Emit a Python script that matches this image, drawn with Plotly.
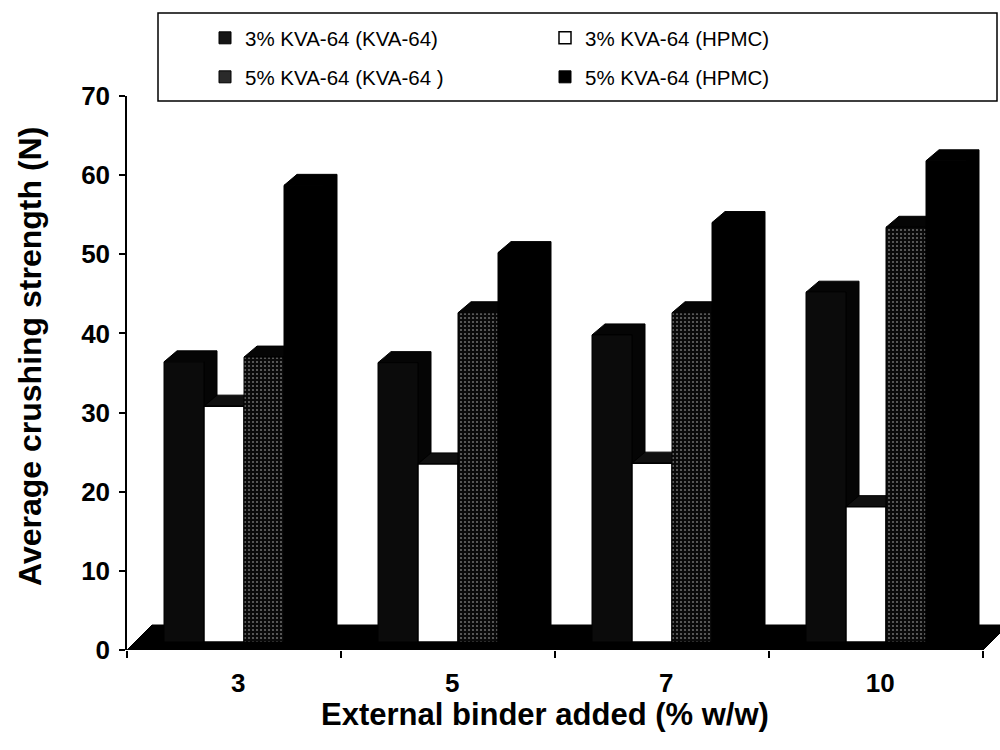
import plotly.graph_objects as go

# ---- data -------------------------------------------------------------
categories = ["3", "5", "7", "10"]          # external binder added (% w/w)
series_names = [
    "3% KVA-64 (KVA-64)",
    "3% KVA-64 (HPMC)",
    "5% KVA-64 (KVA-64 )",
    "5% KVA-64 (HPMC)",
]
kva3_kva64 = [35.4, 35.3, 38.8, 44.2]
kva3_hpmc = [29.8, 22.5, 22.6, 17.1]
kva5_kva64 = [36.0, 41.6, 41.6, 52.4]
kva5_hpmc = [57.7, 49.2, 53.0, 60.8]
y_ticks = [0, 10, 20, 30, 40, 50, 60, 70]

series_values = [kva3_kva64, kva3_hpmc, kva5_kva64, kva5_hpmc]

# ---- layout geometry (pixels) ------------------------------------------
W, H = 1000, 750
M_L, M_R, M_T, M_B = 127, 0, 96, 100
PLOT_W = W - M_L - M_R
PLOT_H = H - M_T - M_B
Y_MAX = 70
CAT_PX = 214                      # width of one category slot
UX = 1.0 / CAT_PX                 # x data units per pixel
UY = Y_MAX / PLOT_H               # y data units per pixel
X_RANGE = [-0.5, -0.5 + PLOT_W / CAT_PX]

BAR_PX = 40                       # front face width of one column
SHIFT_X, SHIFT_Y = 10, 8          # columns stand a little back on the floor
DEPTH_X, DEPTH_Y = 13, 11         # oblique depth of each column
FLOOR_X, FLOOR_Y = 25, 25         # oblique depth of the floor

FONT = "Liberation Sans, Arial, sans-serif"

# front face styles per series
front_styles = [
    dict(fillcolor="#0b0b0b", line=dict(color="black", width=1)),
    dict(fillcolor="white", line=dict(color="black", width=1.5)),
    dict(fillcolor="#111111", line=dict(color="black", width=1),
         fillpattern=dict(shape=".", bgcolor="#0a0a0a", fgcolor="#c8c8c8",
                          size=4, solidity=0.22)),
    dict(fillcolor="black", line=dict(color="black", width=1)),
]
side_color = ["#050505", "#101010", "#050505", "black"]
legend_marker = [
    dict(color="#151515", line=dict(color="black", width=1)),
    dict(color="white", line=dict(color="black", width=1.5)),
    dict(color="#2a2a2a", line=dict(color="black", width=1)),
    dict(color="black", line=dict(color="black", width=1)),
]

fig = go.Figure()

# floor of the 3-D plot area
fx, fy = FLOOR_X * UX, FLOOR_Y * UY
fig.add_trace(go.Scatter(
    x=[-0.5, 3.5, 3.5 + fx, -0.5 + fx, -0.5],
    y=[0, 0, fy, fy, 0],
    fill="toself", fillcolor="black", mode="lines",
    line=dict(color="black", width=1),
    hoverinfo="skip", showlegend=False,
))

dx, dy = DEPTH_X * UX, DEPTH_Y * UY
base = SHIFT_Y * UY
for k, (name, values) in enumerate(zip(series_names, series_values)):
    fxs, fys, sxs, sys_ = [], [], [], []
    for i, v in enumerate(values):
        xl = i + (SHIFT_X + (k - 2) * BAR_PX) * UX
        xr = xl + BAR_PX * UX
        top = base + v
        # top + right side faces
        sxs += [xl, xl + dx, xr + dx, xr + dx, xr, xr, xl, None]
        sys_ += [top, top + dy, top + dy, base + dy, base, top, top, None]
        # front face
        fxs += [xl, xr, xr, xl, xl, None]
        fys += [base, base, top, top, base, None]
    fig.add_trace(go.Scatter(
        x=sxs, y=sys_, fill="toself", fillcolor=side_color[k], mode="lines",
        line=dict(color="black", width=1), hoverinfo="skip", showlegend=False,
    ))
    fig.add_trace(go.Scatter(
        x=fxs, y=fys, fill="toself", mode="lines", name=name,
        hoverinfo="skip", showlegend=False, **front_styles[k],
    ))

# legend entries (two rows of two)
for k, name in enumerate(series_names):
    fig.add_trace(go.Scatter(
        x=[None], y=[None], mode="markers", name=name,
        marker=dict(symbol="square", size=12, **legend_marker[k]),
        legend="legend" if k < 2 else "legend2",
    ))

legend_common = dict(
    orientation="h", xanchor="left", yanchor="middle",
    entrywidth=295, entrywidthmode="pixels",
    bgcolor="rgba(0,0,0,0)", borderwidth=0,
    font=dict(family=FONT, size=20.5, color="black"),
    traceorder="normal",
)


def px_x(p):
    return (p - M_L) / PLOT_W


def px_y(p):
    return (H - M_B - p) / PLOT_H


tick_font = dict(family=FONT, size=26, color="black", weight="bold")

fig.update_layout(
    width=W, height=H,
    margin=dict(l=M_L, r=M_R, t=M_T, b=M_B),
    paper_bgcolor="white", plot_bgcolor="white",
    xaxis=dict(
        range=X_RANGE, showgrid=False, zeroline=False, showline=False,
        tickmode="array", tickvals=[i + 0.02 for i in range(len(categories))],
        ticktext=categories, ticks="", tickfont=tick_font,
        ticklabelstandoff=15,
        minor=dict(tickmode="array",
                   tickvals=[i - 0.5 for i in range(len(categories) + 1)],
                   ticks="outside", ticklen=7, tickcolor="black", tickwidth=1.5),
        fixedrange=True,
    ),
    yaxis=dict(
        range=[0, Y_MAX], showgrid=False, zeroline=False,
        showline=True, linecolor="black", linewidth=1.5,
        tickmode="array", tickvals=y_ticks,
        ticks="outside", ticklen=6, tickcolor="black", tickwidth=1.5,
        tickfont=tick_font, ticklabelstandoff=4,
        fixedrange=True,
    ),
    legend=dict(x=px_x(205), y=px_y(38), **legend_common),
    legend2=dict(x=px_x(205), y=px_y(77), **legend_common),
    shapes=[dict(
        type="rect", xref="paper", yref="paper",
        x0=px_x(158), x1=px_x(997), y0=px_y(101), y1=px_y(13),
        line=dict(color="black", width=1.5), fillcolor="rgba(0,0,0,0)",
        layer="below",
    )],
    annotations=[
        dict(text="External binder added (% w/w)", xref="paper", yref="paper",
             x=px_x(545), y=px_y(715), xanchor="center", yanchor="middle",
             showarrow=False,
             font=dict(family=FONT, size=31, color="black", weight="bold")),
        dict(text="Average crushing strength (N)", xref="paper", yref="paper",
             x=px_x(30), y=px_y(357), xanchor="center", yanchor="middle",
             textangle=-90, showarrow=False,
             font=dict(family=FONT, size=32, color="black", weight="bold")),
    ],
    showlegend=True,
)

fig.write_html("out.html")
